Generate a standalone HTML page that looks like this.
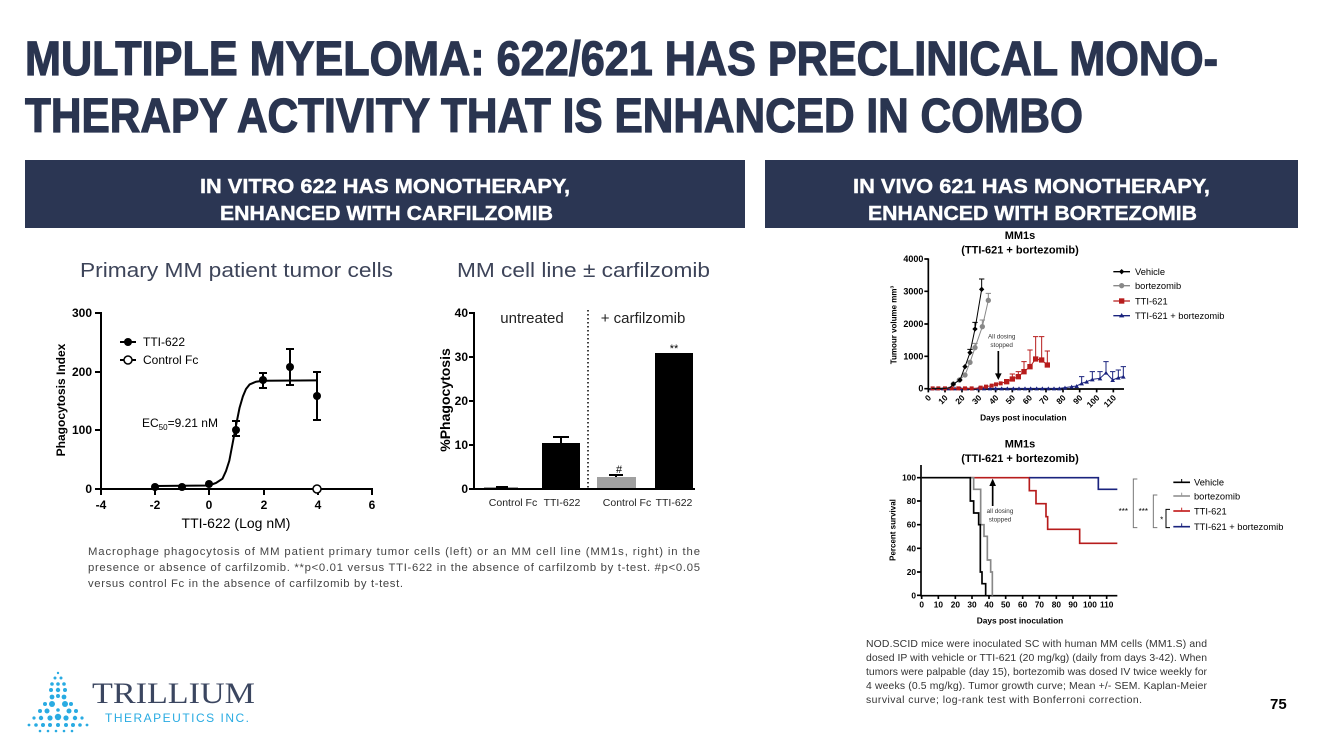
<!DOCTYPE html>
<html><head><meta charset="utf-8"><style>
html,body{margin:0;padding:0;background:#fff;}
svg{display:block;font-family:"Liberation Sans",sans-serif;}
</style></head><body>
<svg width="1333" height="750" viewBox="0 0 1333 750" xmlns="http://www.w3.org/2000/svg">
<rect width="1333" height="750" fill="#fff"/>
<!-- Title -->
<g fill="#2a3550" stroke="#2a3550" stroke-width="1.2" font-weight="bold" font-size="48">
<text x="25" y="75" textLength="1193" lengthAdjust="spacingAndGlyphs">MULTIPLE MYELOMA: 622/621 HAS PRECLINICAL MONO-</text>
<text x="25" y="132" textLength="1058" lengthAdjust="spacingAndGlyphs">THERAPY ACTIVITY THAT IS ENHANCED IN COMBO</text>
</g>
<!-- header bars -->
<rect x="25" y="160" width="720" height="68" fill="#2b3653"/>
<rect x="765" y="160" width="533" height="68" fill="#2b3653"/>
<g fill="#fff" stroke="#fff" stroke-width="0.4" font-weight="bold" font-size="20">
<text x="200" y="193" textLength="370" lengthAdjust="spacingAndGlyphs">IN VITRO 622 HAS MONOTHERAPY,</text>
<text x="220" y="220" textLength="333" lengthAdjust="spacingAndGlyphs">ENHANCED WITH CARFILZOMIB</text>
<text x="853" y="193" textLength="357" lengthAdjust="spacingAndGlyphs">IN VIVO 621 HAS MONOTHERAPY,</text>
<text x="868" y="220" textLength="329" lengthAdjust="spacingAndGlyphs">ENHANCED WITH BORTEZOMIB</text>
</g>
<g fill="#3d4459" font-size="20">
<text x="80" y="277" textLength="313" lengthAdjust="spacingAndGlyphs">Primary MM patient tumor cells</text>
<text x="457" y="277" textLength="253" lengthAdjust="spacingAndGlyphs">MM cell line ± carfilzomib</text>
</g>

<!-- Left chart -->
<g stroke="#000" stroke-width="2" fill="none">
<line x1="101" y1="312" x2="101" y2="490"/>
<line x1="100" y1="489" x2="373" y2="489"/>
<line x1="95" y1="313" x2="101" y2="313"/><line x1="95" y1="372" x2="101" y2="372"/><line x1="95" y1="430" x2="101" y2="430"/><line x1="95" y1="489" x2="101" y2="489"/>
<line x1="101" y1="489" x2="101" y2="495"/><line x1="155" y1="489" x2="155" y2="495"/><line x1="209" y1="489" x2="209" y2="495"/><line x1="264" y1="489" x2="264" y2="495"/><line x1="318" y1="489" x2="318" y2="495"/><line x1="372" y1="489" x2="372" y2="495"/>
<path d="M155,486 L209,485.5 L216,483 L222.5,478.7 L226,471 L229.3,460.8 L232.5,444 L236,425.6 L239.5,408 L242.9,396.3 L246,389 L249.6,384.5 L256,381.7 L263,380.8 L317,380.4"/>
<path d="M236,436V421M232,436h8M232,421h8 M263,388V373M259,388h8M259,373h8 M290,385V349M286,385h8M286,349h8 M317,420V372M313,420h8M313,372h8"/>
<line x1="120" y1="342" x2="136" y2="342"/><line x1="120" y1="360" x2="136" y2="360"/>
</g>
<g fill="#000">
<circle cx="155" cy="487" r="4"/><circle cx="182" cy="487" r="4"/><circle cx="209" cy="484" r="4"/><circle cx="236" cy="430" r="4"/><circle cx="263" cy="380" r="4"/><circle cx="290" cy="367" r="4"/><circle cx="317" cy="396" r="4"/><circle cx="128" cy="342" r="4"/>
</g>
<circle cx="317" cy="489" r="4" fill="#fff" stroke="#000" stroke-width="1.5"/>
<circle cx="128" cy="360" r="4" fill="#fff" stroke="#000" stroke-width="1.5"/>
<g font-size="12" font-weight="bold" text-anchor="end">
<text x="92" y="317">300</text><text x="92" y="376">200</text><text x="92" y="434">100</text><text x="92" y="493">0</text>
</g>
<g font-size="12" font-weight="bold" text-anchor="middle">
<text x="101" y="509">-4</text><text x="155" y="509">-2</text><text x="209" y="509">0</text><text x="264" y="509">2</text><text x="318" y="509">4</text><text x="372" y="509">6</text>
</g>
<text x="236" y="528" font-size="14" text-anchor="middle">TTI-622 (Log nM)</text>
<text transform="translate(65,400) rotate(-90)" font-size="12" font-weight="bold" text-anchor="middle">Phagocytosis Index</text>
<text x="143" y="346" font-size="12">TTI-622</text>
<text x="143" y="364" font-size="12">Control Fc</text>
<text x="142" y="427" font-size="12">EC<tspan font-size="8" dy="3">50</tspan><tspan dy="-3">=9.21 nM</tspan></text>

<!-- Bar chart -->
<rect x="484" y="487" width="34" height="2" fill="#a0a0a0"/>
<rect x="542" y="443" width="38" height="46" fill="#000"/>
<rect x="597" y="477" width="39" height="12" fill="#a0a0a0"/>
<rect x="655" y="353" width="38" height="136" fill="#000"/>
<g stroke="#000" stroke-width="2" fill="none">
<line x1="474" y1="312" x2="474" y2="490"/><line x1="473" y1="489" x2="695" y2="489"/>
<line x1="469" y1="313" x2="474" y2="313"/><line x1="469" y1="357" x2="474" y2="357"/><line x1="469" y1="401" x2="474" y2="401"/><line x1="469" y1="445" x2="474" y2="445"/><line x1="469" y1="489" x2="474" y2="489"/>
<path d="M561,443V437M553,437h16 M616,477V475M609,475h14 M496,487h12"/>
<line x1="588" y1="310" x2="588" y2="489" stroke-dasharray="1.5,2.5" stroke-width="1.5"/>
</g>
<g font-size="12" font-weight="bold" text-anchor="end">
<text x="468" y="317">40</text><text x="468" y="361">30</text><text x="468" y="405">20</text><text x="468" y="449">10</text><text x="468" y="493">0</text>
</g>
<text transform="translate(450,400) rotate(-90)" font-size="14" font-weight="bold" text-anchor="middle">%Phagocytosis</text>
<g font-size="10.5" text-anchor="middle" fill="#222">
<text x="513" y="506">Control Fc</text><text x="562" y="506">TTI-622</text><text x="627" y="506">Control Fc</text><text x="674" y="506">TTI-622</text>
</g>
<text x="532" y="323" font-size="15" text-anchor="middle" fill="#222">untreated</text>
<text x="643" y="323" font-size="15" text-anchor="middle" fill="#222">+ carfilzomib</text>
<text x="619" y="473" font-size="11" text-anchor="middle">#</text>
<text x="674" y="352" font-size="11" text-anchor="middle">**</text>

<!-- Left caption -->
<g font-size="11.3" fill="#444">
<text x="88" y="555" textLength="612" lengthAdjust="spacing">Macrophage phagocytosis of MM patient primary tumor cells (left) or an MM cell line (MM1s, right) in the</text>
<text x="88" y="571" textLength="612" lengthAdjust="spacing">presence or absence of carfilzomib. **p&lt;0.01 versus TTI-622 in the absence of carfilzomb by t-test. #p&lt;0.05</text>
<text x="88" y="587" textLength="315" lengthAdjust="spacing">versus control Fc in the absence of carfilzomib by t-test.</text>
</g>

<!-- Top right chart (zoom coords) -->
<g transform="translate(860,225) scale(0.33333)">
<text x="480" y="42" font-size="33" font-weight="bold" text-anchor="middle">MM1s</text>
<text x="480" y="86" font-size="33" font-weight="bold" text-anchor="middle">(TTI-621 + bortezomib)</text>
<g stroke="#000" stroke-width="5" fill="none">
<line x1="205" y1="100" x2="205" y2="494"/><line x1="203" y1="492" x2="792" y2="492"/>
<path d="M193,102h12M193,199h12M193,297h12M193,394h12M193,491h12"/>
<path d="M205,492v10M255,492v10M306,492v10M356,492v10M407,492v10M457,492v10M508,492v10M558,492v10M609,492v10M659,492v10M710,492v10M760,492v10"/>
</g>
<g font-size="27" font-weight="bold" text-anchor="end">
<text x="190" y="111">4000</text><text x="190" y="208">3000</text><text x="190" y="306">2000</text><text x="190" y="403">1000</text><text x="190" y="500">0</text>
</g>
<g font-size="25" font-weight="bold" text-anchor="end">
<text transform="translate(215,520) rotate(-45)">0</text><text transform="translate(265,520) rotate(-45)">10</text><text transform="translate(316,520) rotate(-45)">20</text><text transform="translate(366,520) rotate(-45)">30</text><text transform="translate(417,520) rotate(-45)">40</text><text transform="translate(467,520) rotate(-45)">50</text><text transform="translate(518,520) rotate(-45)">60</text><text transform="translate(568,520) rotate(-45)">70</text><text transform="translate(619,520) rotate(-45)">80</text><text transform="translate(669,520) rotate(-45)">90</text><text transform="translate(720,520) rotate(-45)">100</text><text transform="translate(770,520) rotate(-45)">110</text>
</g>
<text x="490" y="587" font-size="25" font-weight="bold" text-anchor="middle">Days post inoculation</text>
<text transform="translate(110,300) rotate(-90)" font-size="24" font-weight="bold" text-anchor="middle">Tumour volume mm<tspan font-size="15" dy="-10">3</tspan></text>
<g stroke="#1a237e" stroke-width="3" fill="none">
<polyline points="215,490 232,490 250,490 267,490 285,490 302,490 320,490 337,490 355,490 372,490 390,490 407,490 425,490 442,490 460,490 477,490 495,490 512,490 530,490 547,490 565,490 582,490 598,490 615,488 635,485 650,483 665,475 680,470 697,463 720,460 738,443 758,465 775,458 790,455"/>
<path d="M665,475V455M657,455h16M697,463V440M689,440h16M720,460V440M712,440h16M738,443V410M730,410h16M758,465V440M750,440h16M775,458V435M767,435h16M790,455V425M782,425h16"/>
</g>
<g fill="#1a237e">
<path d="M215,484l7,12h-14zM232,484l7,12h-14zM250,484l7,12h-14zM267,484l7,12h-14zM285,484l7,12h-14zM302,484l7,12h-14zM320,484l7,12h-14zM337,484l7,12h-14zM355,484l7,12h-14zM372,484l7,12h-14zM390,484l7,12h-14zM407,484l7,12h-14zM425,484l7,12h-14zM442,484l7,12h-14zM460,484l7,12h-14zM477,484l7,12h-14zM495,484l7,12h-14zM512,484l7,12h-14zM530,484l7,12h-14zM547,484l7,12h-14zM565,484l7,12h-14zM582,484l7,12h-14zM598,484l7,12h-14zM615,482l7,12h-14zM635,479l7,12h-14zM650,477l7,12h-14zM665,469l7,12h-14zM680,464l7,12h-14zM697,457l7,12h-14zM720,454l7,12h-14zM738,437l7,12h-14zM758,459l7,12h-14zM775,452l7,12h-14zM790,449l7,12h-14z"/>
</g>
<g stroke="#b71c1c" stroke-width="3" fill="none">
<polyline points="218,490 235,490 255,490 275,490 295,490 315,490 335,490 345,490 362,488 378,485 395,482 408,478 422,475 440,470 457,462 475,455 492,440 510,425 527,402 545,405 562,420"/>
<path d="M492,440V410M484,410h16M510,425V375M502,375h16M527,402V335M519,335h16M545,405V335M537,335h16M562,420V378M554,378h16M457,462V447M449,447h16M475,455V440M467,440h16"/>
</g>
<g fill="#b71c1c">
<path d="M212,484h12v12h-12zM229,484h12v12h-12zM249,484h12v12h-12zM269,484h12v12h-12zM289,484h12v12h-12zM309,484h12v12h-12zM329,484h12v12h-12zM356,482h12v12h-12zM372,479h12v12h-12zM389,476h12v12h-12zM402,472h12v12h-12zM416,469h12v12h-12zM432,462h16v16h-16zM449,454h16v16h-16zM467,447h16v16h-16zM484,432h16v16h-16zM502,417h16v16h-16zM519,394h16v16h-16zM537,397h16v16h-16zM554,412h16v16h-16z"/>
</g>
<g stroke="#888" stroke-width="3" fill="none">
<polyline points="215,490 235,490 255,490 270,488 280,477 298,465 315,450 330,412 345,368 367,305 385,226"/>
<path d="M385,226V205M377,205h16M367,305V285M359,285h16M345,368V355M337,355h16"/>
</g>
<g fill="#888"><circle cx="280" cy="477" r="8"/><circle cx="298" cy="465" r="8"/><circle cx="315" cy="450" r="8"/><circle cx="330" cy="412" r="8"/><circle cx="345" cy="368" r="8"/><circle cx="367" cy="305" r="8"/><circle cx="385" cy="226" r="8"/></g>
<g stroke="#000" stroke-width="3" fill="none">
<polyline points="215,490 235,490 255,490 270,488 280,477 300,465 315,425 330,383 345,312 365,193"/>
<path d="M365,193V162M357,162h16M345,312V292M337,292h16M330,383V373M322,373h16"/>
</g>
<g fill="#000"><path d="M280,469l8,8-8,8-8-8zM300,457l8,8-8,8-8-8zM315,417l8,8-8,8-8-8zM330,375l8,8-8,8-8-8zM345,304l8,8-8,8-8-8zM365,185l8,8-8,8-8-8z"/></g>
<line x1="415" y1="378" x2="415" y2="448" stroke="#000" stroke-width="5"/>
<path d="M405,445h20l-10,20z" fill="#000"/>
<text x="425" y="340" font-size="19" fill="#333" text-anchor="middle">All dosing</text>
<text x="425" y="366" font-size="19" fill="#333" text-anchor="middle">stopped</text>
<g stroke-width="4">
<line x1="760" y1="140" x2="810" y2="140" stroke="#000"/><path d="M785,132l8,8-8,8-8-8z" fill="#000"/>
<line x1="760" y1="182" x2="810" y2="182" stroke="#888"/><circle cx="785" cy="182" r="8" fill="#888"/>
<line x1="760" y1="228" x2="810" y2="228" stroke="#b71c1c"/><rect x="777" y="220" width="16" height="16" fill="#b71c1c"/>
<line x1="760" y1="272" x2="810" y2="272" stroke="#1a237e"/><path d="M785,264l8,13h-16z" fill="#1a237e"/>
</g>
<g font-size="28"><text x="825" y="150">Vehicle</text><text x="825" y="192">bortezomib</text><text x="825" y="238">TTI-621</text><text x="825" y="282">TTI-621 + bortezomib</text></g>
</g>

<!-- Bottom right chart -->
<g transform="translate(860,430) scale(0.33333)">
<text x="480" y="52" font-size="33" font-weight="bold" text-anchor="middle">MM1s</text>
<text x="480" y="96" font-size="33" font-weight="bold" text-anchor="middle">(TTI-621 + bortezomib)</text>
<g stroke="#000" stroke-width="5" fill="none">
<line x1="183" y1="105" x2="183" y2="499"/><line x1="181" y1="497" x2="772" y2="497"/>
<path d="M171,143h12M171,213h12M171,284h12M171,355h12M171,426h12M171,496h12"/>
<path d="M185,497v10M235,497v10M286,497v10M336,497v10M387,497v10M437,497v10M488,497v10M538,497v10M589,497v10M639,497v10M690,497v10M740,497v10"/>
</g>
<g font-size="25" font-weight="bold" text-anchor="end">
<text x="168" y="152">100</text><text x="168" y="222">80</text><text x="168" y="293">60</text><text x="168" y="364">40</text><text x="168" y="435">20</text><text x="168" y="505">0</text>
</g>
<g font-size="25" font-weight="bold" text-anchor="middle">
<text x="185" y="532">0</text><text x="235" y="532">10</text><text x="286" y="532">20</text><text x="336" y="532">30</text><text x="387" y="532">40</text><text x="437" y="532">50</text><text x="488" y="532">60</text><text x="538" y="532">70</text><text x="589" y="532">80</text><text x="639" y="532">90</text><text x="690" y="532">100</text><text x="740" y="532">110</text>
</g>
<text x="480" y="580" font-size="25" font-weight="bold" text-anchor="middle">Days post inoculation</text>
<text transform="translate(107,300) rotate(-90)" font-size="24" font-weight="bold" text-anchor="middle">Percent survival</text>
<g fill="none" stroke-width="5">
<path d="M330,143H508V182H528V221H558V260H563V298H659V340H772" stroke="#b71c1c"/>
<path d="M508,143H715V178H772" stroke="#1a237e"/>
<path d="M185,143H341V178H362V284H372V319H382V390H392V426H397V497" stroke="#888"/>
<path d="M185,143H331V213H341V249H356V284H361V426H366V461H377V497" stroke="#000"/>
</g>
<line x1="398" y1="228" x2="398" y2="165" stroke="#000" stroke-width="5"/>
<path d="M388,168h20l-10,-22z" fill="#000"/>
<text x="420" y="249" font-size="19" fill="#333" text-anchor="middle">all dosing</text>
<text x="420" y="275" font-size="19" fill="#333" text-anchor="middle">stopped</text>
<g stroke-width="5">
<line x1="940" y1="157" x2="990" y2="157" stroke="#000"/><line x1="965" y1="147" x2="965" y2="157" stroke="#000" stroke-width="3"/>
<line x1="940" y1="198" x2="990" y2="198" stroke="#999"/><line x1="965" y1="188" x2="965" y2="198" stroke="#999" stroke-width="3"/>
<line x1="940" y1="243" x2="990" y2="243" stroke="#c62828"/><line x1="965" y1="233" x2="965" y2="243" stroke="#c62828" stroke-width="3"/>
<line x1="940" y1="290" x2="990" y2="290" stroke="#1a237e"/><line x1="965" y1="280" x2="965" y2="290" stroke="#1a237e" stroke-width="3"/>
</g>
<g font-size="28"><text x="1002" y="167">Vehicle</text><text x="1002" y="208">bortezomib</text><text x="1002" y="253">TTI-621</text><text x="1002" y="300">TTI-621 + bortezomib</text></g>
<g fill="none" stroke-width="3">
<path d="M832,147H820V293H832" stroke="#777"/>
<path d="M892,195H880V293H892" stroke="#777"/>
<path d="M930,238H918V293H930" stroke="#000"/>
</g>
<text x="790" y="252" font-size="24" text-anchor="middle">***</text>
<text x="850" y="252" font-size="24" text-anchor="middle">***</text>
<text x="905" y="278" font-size="24" text-anchor="middle">*</text>
</g>

<!-- right caption -->
<g font-size="10.4" fill="#333">
<text x="866" y="647" textLength="341" lengthAdjust="spacing">NOD.SCID mice were inoculated SC with human MM cells (MM1.S) and</text>
<text x="866" y="661" textLength="341" lengthAdjust="spacing">dosed IP with vehicle or TTI-621 (20 mg/kg) (daily from days 3-42). When</text>
<text x="866" y="675" textLength="341" lengthAdjust="spacing">tumors were palpable (day 15), bortezomib was dosed IV twice weekly for</text>
<text x="866" y="689" textLength="341" lengthAdjust="spacing">4 weeks (0.5 mg/kg). Tumor growth curve; Mean +/- SEM. Kaplan-Meier</text>
<text x="866" y="703" textLength="276" lengthAdjust="spacing">survival curve; log-rank test with Bonferroni correction.</text>
</g>
<text x="1270" y="709" font-size="15" font-weight="bold">75</text>

<!-- Logo -->
<g fill="#29abe2">
<circle cx="58" cy="673" r="1.2"/>
<circle cx="55" cy="678" r="1.5"/><circle cx="61" cy="678" r="1.5"/>
<circle cx="52" cy="684" r="1.8"/><circle cx="58" cy="684" r="1.8"/><circle cx="64" cy="684" r="1.8"/>
<circle cx="51" cy="690" r="2"/><circle cx="58" cy="690" r="2.2"/><circle cx="65" cy="690" r="2"/>
<circle cx="52" cy="697" r="2.4"/><circle cx="58" cy="696" r="2"/><circle cx="64" cy="697" r="2.4"/>
<circle cx="45" cy="704" r="2"/><circle cx="52" cy="704" r="3"/><circle cx="65" cy="704" r="3"/><circle cx="71" cy="704" r="2"/>
<circle cx="40" cy="711" r="2"/><circle cx="47" cy="711" r="2.5"/><circle cx="58" cy="710" r="1.8"/><circle cx="69" cy="711" r="2.5"/><circle cx="76" cy="711" r="2"/>
<circle cx="34" cy="718" r="1.6"/><circle cx="41" cy="718" r="2.2"/><circle cx="50" cy="718" r="2.6"/><circle cx="58" cy="717" r="3.2"/><circle cx="66" cy="718" r="2.6"/><circle cx="75" cy="718" r="2.2"/><circle cx="82" cy="718" r="1.6"/>
<circle cx="29" cy="725" r="1.4"/><circle cx="36" cy="725" r="1.8"/><circle cx="43" cy="725" r="2"/><circle cx="50" cy="725" r="2"/><circle cx="58" cy="725" r="2"/><circle cx="66" cy="725" r="2"/><circle cx="73" cy="725" r="2"/><circle cx="80" cy="725" r="1.8"/><circle cx="87" cy="725" r="1.4"/>
<circle cx="40" cy="731" r="1.3"/><circle cx="48" cy="731" r="1.3"/><circle cx="56" cy="731" r="1.3"/><circle cx="64" cy="731" r="1.3"/><circle cx="72" cy="731" r="1.3"/>
</g>
<text x="92" y="703" font-family="Liberation Serif, serif" font-size="30" fill="#3b4660" textLength="163" lengthAdjust="spacingAndGlyphs">TRILLIUM</text>
<text x="105" y="722" font-size="12" fill="#29abe2" textLength="144" lengthAdjust="spacing">THERAPEUTICS INC.</text>
</svg>
</body></html>
